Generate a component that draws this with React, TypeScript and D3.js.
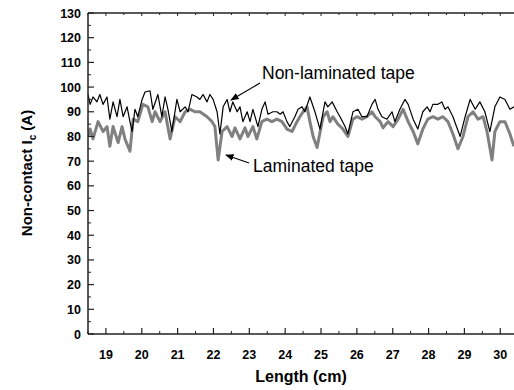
import React from 'react';
import * as d3 from 'd3';

// Length (cm) and non-contact Ic (A)
const nonLamLength = [
  18.5, 18.56, 18.64, 18.75, 18.83, 18.92, 19.03, 19.11, 19.2, 19.31, 19.39, 19.48, 19.59, 19.67, 19.73, 19.81,
  19.89, 20.01, 20.09, 20.23, 20.31, 20.45, 20.56, 20.65, 20.73, 20.84, 20.98, 21.07, 21.21, 21.29, 21.4, 21.54,
  21.62, 21.71, 21.82, 21.9, 21.99, 22.1, 22.18, 22.27, 22.38, 22.46, 22.54, 22.66, 22.74, 22.82, 22.94, 23.02,
  23.1, 23.24, 23.35, 23.44, 23.52, 23.66, 23.77, 23.86, 23.94, 24.05, 24.13, 24.27, 24.36, 24.47, 24.55, 24.69,
  24.83, 24.97, 25.11, 25.19, 25.31, 25.45, 25.53, 25.67, 25.75, 25.89, 26.03, 26.14, 26.28, 26.42, 26.51, 26.59,
  26.7, 26.84, 26.98, 27.06, 27.2, 27.34, 27.43, 27.57, 27.7, 27.84, 27.96, 28.04, 28.12, 28.26, 28.37, 28.46,
  28.54, 28.68, 28.88, 29.02, 29.16, 29.3, 29.43, 29.57, 29.71, 29.85, 29.99, 30.13, 30.27, 30.38,
];
const nonLamIc = [
  97, 93, 96, 94, 97, 93, 96, 87, 94, 88, 95, 88, 92, 86, 82, 91,
  88, 95, 98, 98.5, 91, 97, 88, 96, 91, 82, 95, 90, 92, 90, 97, 96,
  95, 97, 94, 97, 95, 90, 81, 92, 95, 90, 94, 90, 92, 86, 90, 86,
  91, 84, 91, 94, 89, 90, 90, 89, 90, 86, 84, 88, 91, 92, 90, 96,
  90, 83, 94, 92, 94, 90, 88, 84, 81, 90, 91, 88, 88, 93, 95, 91,
  88, 87, 90, 86, 91, 95, 93, 87, 83, 90, 92, 90, 93, 93, 94, 91,
  92, 88, 80, 88, 95, 91, 94, 90, 82, 92, 96, 95, 91, 92,
];

const lamLength = [
  18.5, 18.56, 18.64, 18.78, 18.92, 19.03, 19.11, 19.2, 19.34, 19.45, 19.53, 19.67, 19.76, 19.89, 20.03, 20.17,
  20.29, 20.37, 20.51, 20.65, 20.79, 20.93, 21.07, 21.21, 21.35, 21.48, 21.62, 21.82, 21.96, 22.04, 22.13, 22.24,
  22.38, 22.52, 22.6, 22.74, 22.88, 22.96, 23.1, 23.21, 23.35, 23.49, 23.63, 23.77, 23.91, 24.05, 24.19, 24.33,
  24.41, 24.5, 24.61, 24.69, 24.78, 24.89, 24.97, 25.06, 25.17, 25.25, 25.33, 25.47, 25.61, 25.75, 25.89, 26.0,
  26.14, 26.28, 26.42, 26.51, 26.65, 26.73, 26.87, 27.01, 27.15, 27.29, 27.43, 27.57, 27.7, 27.84, 27.98, 28.12,
  28.26, 28.4, 28.54, 28.68, 28.82, 28.96, 29.1, 29.24, 29.38, 29.52, 29.63, 29.77, 29.85, 29.99, 30.13, 30.27,
  30.38,
];
const lamIc = [
  80, 83, 79, 86, 82, 84, 76, 84, 77.5, 84, 79, 74, 87, 86, 93, 92,
  86, 90, 86, 90, 79, 88, 86, 90, 91, 90, 90, 88, 86, 84, 70.5, 82,
  84, 80, 83.5, 79, 83.5, 80, 84, 79, 86, 87, 86, 87, 86, 83, 82, 86,
  88, 90, 92, 86, 80, 75.5, 81.5, 88, 90, 86, 88, 85, 83, 80, 87, 88,
  87, 88, 90, 88, 86, 83.5, 86, 84, 87, 91, 86, 82, 77, 83, 87, 88,
  87, 88, 86, 81, 75, 80, 88, 90, 87, 88, 82, 70.5, 82, 86, 86, 81,
  76,
];

const xTicks = [19, 20, 21, 22, 23, 24, 25, 26, 27, 28, 29, 30];
const yTicks = [0, 10, 20, 30, 40, 50, 60, 70, 80, 90, 100, 110, 120, 130];

const W = 514;
const H = 390;
const font = '"Liberation Sans", Arial, sans-serif';

const App: React.FC = () => {
  const x = d3.scaleLinear().domain([18.5, 30.5]).range([88, 518.2]);
  const y = d3.scaleLinear().domain([0, 130]).range([334, 13]);

  const line = d3.line<[number, number]>()
    .x(d => x(d[0]))
    .y(d => y(d[1]));

  const nonLam = nonLamLength.map((l, i) => [l, nonLamIc[i]] as [number, number]);
  const lam = lamLength.map((l, i) => [l, lamIc[i]] as [number, number]);

  const xMinor = d3.range(18.5, 30.51, 0.5).filter(v => !xTicks.includes(v));
  const yMinor = d3.range(5, 130, 10);

  return (
    <div style={{ position: 'fixed', left: 0, top: 0 }}>
      <svg width={W} height={H} style={{ display: 'block', background: '#fff' }}>
        <defs>
          <clipPath id="plot">
            <rect x={88} y={13} width={W - 88} height={321} />
          </clipPath>
          <marker id="head" viewBox="0 0 10 10" refX="9" refY="5" markerWidth="7" markerHeight="7" orient="auto">
            <path d="M0,1 L10,5 L0,9 z" fill="#000" />
          </marker>
        </defs>

        {/* Series */}
        <g clipPath="url(#plot)">
          <path d={line(lam) || ''} fill="none" stroke="#808080" strokeWidth={3} strokeLinejoin="round" />
          <path d={line(nonLam) || ''} fill="none" stroke="#000" strokeWidth={1.2} strokeLinejoin="round" />
        </g>

        {/* Frame */}
        <line x1={88} x2={W} y1={13} y2={13} stroke="#222" strokeWidth={1.5} />
        <line x1={88} x2={W} y1={334} y2={334} stroke="#222" strokeWidth={1.5} />
        <line x1={88} x2={88} y1={13} y2={334} stroke="#222" strokeWidth={1.5} />

        {/* X ticks */}
        {xTicks.map(t => (
          <g key={t}>
            <line x1={x(t)} x2={x(t)} y1={334} y2={328} stroke="#222" strokeWidth={1.2} />
            <line x1={x(t)} x2={x(t)} y1={13} y2={16} stroke="#222" strokeWidth={1} />
            <text x={x(t)} y={359} textAnchor="middle" fontFamily={font} fontWeight="bold" fontSize={12.5}>{t}</text>
          </g>
        ))}
        {xMinor.map(t => (
          <g key={t}>
            <line x1={x(t)} x2={x(t)} y1={334} y2={331} stroke="#222" strokeWidth={1} />
            <line x1={x(t)} x2={x(t)} y1={13} y2={15} stroke="#222" strokeWidth={1} />
          </g>
        ))}

        {/* Y ticks */}
        {yTicks.map(t => (
          <g key={t}>
            <line x1={88} x2={94} y1={y(t)} y2={y(t)} stroke="#222" strokeWidth={1.2} />
            <text x={81} y={y(t)} dy="0.36em" textAnchor="end" fontFamily={font} fontWeight="bold" fontSize={12.5}>{t}</text>
          </g>
        ))}
        {yMinor.map(t => (
          <line key={t} x1={88} x2={91} y1={y(t)} y2={y(t)} stroke="#222" strokeWidth={1} />
        ))}

        {/* Axis titles */}
        <text x={301} y={382} textAnchor="middle" fontFamily={font} fontWeight="bold" fontSize={16}>Length (cm)</text>
        <text transform="translate(32,173) rotate(-90)" textAnchor="middle" fontFamily={font} fontWeight="bold" fontSize={15}>
          Non-contact I<tspan fontSize={10} dy={4}>c</tspan><tspan dy={-4}> (A)</tspan>
        </text>

        {/* Annotations */}
        <text x={262} y={79} fontFamily={font} fontSize={17.5}>Non-laminated tape</text>
        <line x1={260} y1={83} x2={231} y2={100} stroke="#000" strokeWidth={1.2} markerEnd="url(#head)" />
        <text x={253} y={172} fontFamily={font} fontSize={17.5}>Laminated tape</text>
        <line x1={249} y1={163} x2={226} y2={155} stroke="#000" strokeWidth={1.2} markerEnd="url(#head)" />
      </svg>
    </div>
  );
};

export default App;
